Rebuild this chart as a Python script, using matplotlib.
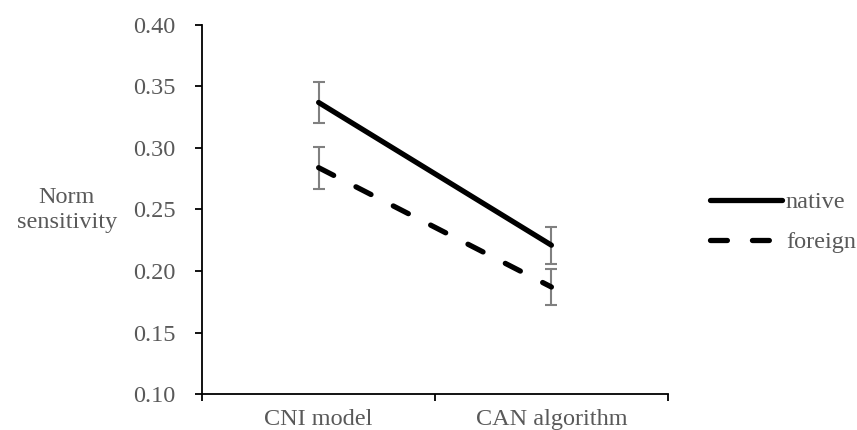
import matplotlib.pyplot as plt

categories = ['CNI model', 'CAN algorithm']
native = [0.337, 0.221]
native_err = [0.017, 0.015]
foreign = [0.284, 0.187]
foreign_err = [0.017, 0.015]

plt.rcParams['font.family'] = ['Liberation Serif', 'DejaVu Serif']
grey = '#595959'
fs = 17.5

fig = plt.figure(figsize=(8.57, 4.30), dpi=100)
ax = fig.add_axes([0.236, 0.0837, 0.5432, 0.8582])

x = [0.5, 1.5]
ax.errorbar(x, native, yerr=native_err, fmt='none', ecolor='#808080',
            elinewidth=1.5, capsize=4.3, capthick=1.5)
ax.errorbar(x, foreign, yerr=foreign_err, fmt='none', ecolor='#808080',
            elinewidth=1.5, capsize=4.3, capthick=1.5)
ax.plot(x, native, color='black', lw=3.8, solid_capstyle='round', label='native')
ax.plot(x, foreign, color='black', lw=3.8, dashes=(3.2, 4.75),
        dash_capstyle='round', label='foreign')

ax.set_xlim(0, 2)
ax.set_ylim(0.10, 0.40)
ax.set_yticks([0.10, 0.15, 0.20, 0.25, 0.30, 0.35, 0.40])
ax.set_yticklabels(['%.2f' % v for v in ax.get_yticks()])
ax.set_xticks([0, 1, 2])
ax.set_xticklabels([])
ax.set_xticks(x, minor=True)
ax.set_xticklabels(categories, minor=True)
ax.tick_params(axis='x', which='minor', length=0, pad=11)
ax.tick_params(axis='both', which='major', length=5, width=1.3, color='black',
               direction='out')
ax.tick_params(axis='both', which='both', labelcolor=grey, labelsize=fs)
ax.tick_params(axis='y', pad=14)

for s in ['top', 'right']:
    ax.spines[s].set_visible(False)
for s in ['left', 'bottom']:
    ax.spines[s].set_linewidth(1.3)

fig.text(0.078, 0.512, 'Norm\nsensitivity', ha='center', va='center',
         color=grey, fontsize=fs, linespacing=1.25)

ax.legend(loc='center left', bbox_to_anchor=(0.8285, 0.4837), bbox_transform=fig.transFigure,
          frameon=False, handlelength=2.96, handletextpad=0.16, labelcolor=grey,
          fontsize=fs, labelspacing=0.74, borderpad=0, borderaxespad=0)

plt.savefig('out.png')
